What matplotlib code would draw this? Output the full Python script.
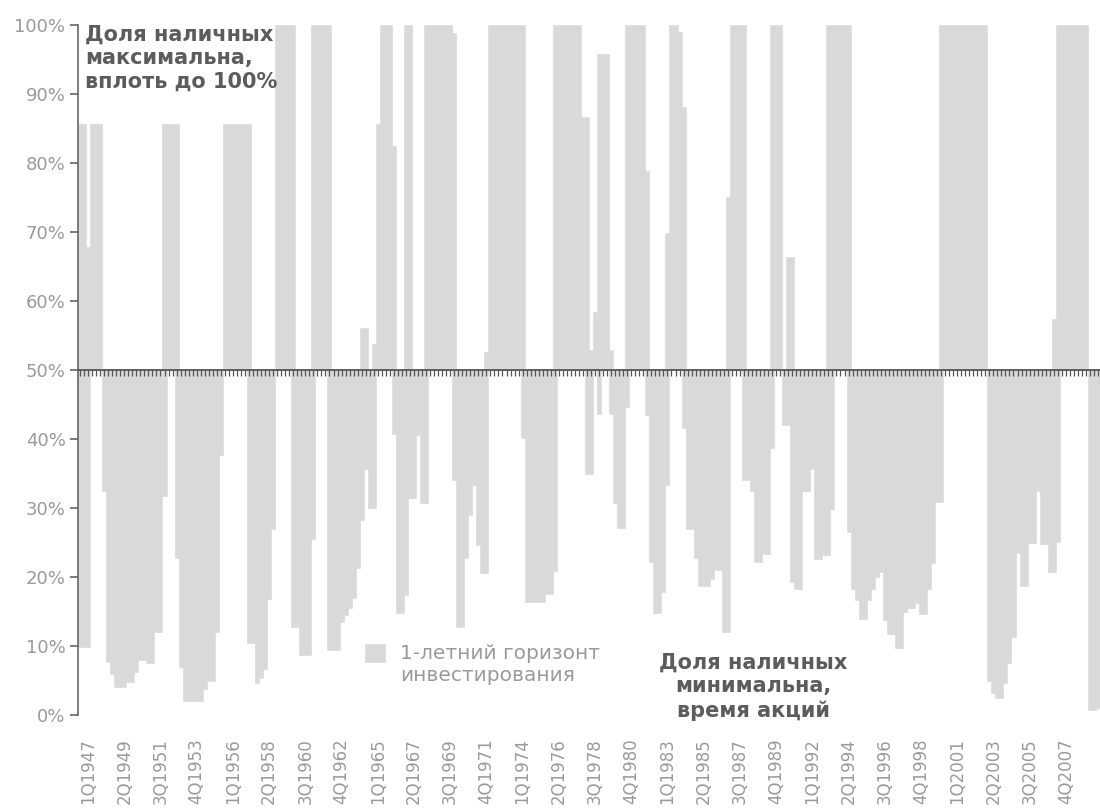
import numpy as np
import matplotlib
matplotlib.use("Agg")
import matplotlib.pyplot as plt

# Доля наличных по кварталам (1-летний горизонт): верхняя и нижняя граница столбца, 50 = нет столбца
verh = [
    85.6, 85.6, 67.8, 85.6, 85.6, 85.6, 50, 50, 50, 50,
    50, 50, 50, 50, 50, 50, 50, 50, 50, 50,
    50, 85.6, 85.6, 85.6, 85.6, 50, 50, 50, 50, 50,
    50, 50, 50, 50, 50, 50, 85.6, 85.6, 85.6, 85.6,
    85.6, 85.6, 85.6, 50, 50, 50, 50, 50, 50, 100,
    100, 100, 100, 100, 50, 50, 50, 50, 100, 100,
    100, 100, 100, 50, 50, 50, 50, 50, 50, 50,
    56.1, 56.1, 50, 53.7, 85.6, 100, 100, 100, 82.4, 50,
    50, 100, 100, 50, 50, 50, 100, 100, 100, 100,
    100, 100, 100, 98.9, 50, 50, 50, 50, 50, 50,
    50, 52.6, 100, 100, 100, 100, 100, 100, 100, 100,
    100, 50, 50, 50, 50, 50, 50, 50, 100, 100,
    100, 100, 100, 100, 100, 86.6, 86.6, 52.9, 58.4, 95.8,
    95.8, 95.8, 52.9, 50, 50, 50, 100, 100, 100, 100,
    100, 78.9, 50, 50, 50, 50, 69.8, 100, 100, 99,
    88.1, 50, 50, 50, 50, 50, 50, 50, 50, 50,
    50, 75.1, 100, 100, 100, 100, 50, 50, 50, 50,
    50, 50, 100, 100, 100, 50, 66.4, 66.4, 50, 50,
    50, 50, 50, 50, 50, 50, 100, 100, 100, 100,
    100, 100, 50, 50, 50, 50, 50, 50, 50, 50,
    50, 50, 50, 50, 50, 50, 50, 50, 50, 50,
    50, 50, 50, 50, 100, 100, 100, 100, 100, 100,
    100, 100, 100, 100, 100, 100, 50, 50, 50, 50,
    50, 50, 50, 50, 50, 50, 50, 50, 50, 50,
    50, 50, 57.4, 100, 100, 100, 100, 100, 100, 100,
    100, 50, 50, 50,
]

niz = [
    9.9, 9.9, 9.9, 50, 50, 50, 32.4, 7.7, 6.0, 4.0,
    4.0, 4.0, 4.8, 4.8, 6.3, 8.0, 8.0, 7.5, 7.5, 12.1,
    12.1, 31.7, 50, 50, 22.8, 7.0, 2.0, 2.0, 2.0, 2.0,
    2.0, 3.8, 5.0, 5.0, 12.1, 37.7, 50, 50, 50, 50,
    50, 50, 10.5, 10.5, 4.6, 5.3, 6.7, 16.8, 27.0, 50,
    50, 50, 50, 12.8, 12.8, 8.7, 8.7, 8.7, 25.5, 50,
    50, 50, 9.4, 9.4, 9.4, 13.5, 14.5, 15.5, 17.0, 21.3,
    28.3, 35.7, 30.0, 30.0, 50, 50, 50, 50, 40.7, 14.8,
    14.8, 17.4, 31.5, 31.5, 40.6, 30.7, 30.7, 50, 50, 50,
    50, 50, 50, 34.0, 12.8, 12.8, 22.7, 29.0, 33.4, 24.7,
    20.6, 20.6, 50, 50, 50, 50, 50, 50, 50, 50,
    40.2, 16.4, 16.4, 16.4, 16.4, 16.4, 17.6, 17.6, 20.9, 50,
    50, 50, 50, 50, 50, 50, 35.0, 35.0, 50, 43.6,
    50, 50, 43.6, 30.7, 27.1, 27.1, 44.7, 50, 50, 50,
    50, 43.5, 22.2, 14.8, 14.8, 17.8, 33.4, 50, 50, 50,
    41.6, 27.0, 27.0, 22.7, 18.7, 18.7, 18.7, 19.7, 21.0, 21.0,
    12.1, 12.1, 50, 50, 50, 34.0, 34.0, 32.4, 22.2, 22.2,
    23.4, 23.4, 38.7, 50, 50, 42.0, 42.0, 19.3, 18.3, 18.3,
    32.5, 32.5, 35.7, 22.6, 22.6, 23.2, 23.2, 29.8, 50, 50,
    50, 26.5, 18.2, 16.7, 13.9, 13.9, 16.7, 18.3, 20.0, 20.7,
    13.7, 11.8, 11.8, 9.7, 9.7, 15.0, 15.5, 15.5, 16.3, 14.7,
    14.7, 18.2, 22.0, 30.8, 30.8, 50, 50, 50, 50, 50,
    50, 50, 50, 50, 50, 50, 5.0, 3.2, 2.5, 2.5,
    4.7, 7.6, 11.3, 23.5, 18.7, 18.7, 25.0, 25.0, 32.5, 24.8,
    24.8, 20.7, 20.7, 25.1, 50, 50, 50, 50, 50, 50,
    50, 0.7, 0.7, 1.0,
]

podpisi_x = [
    "1Q1947", "2Q1949", "3Q1951", "4Q1953", "1Q1956", "2Q1958", "3Q1960",
    "4Q1962", "1Q1965", "2Q1967", "3Q1969", "4Q1971", "1Q1974", "2Q1976",
    "3Q1978", "4Q1980", "1Q1983", "2Q1985", "3Q1987", "4Q1989", "1Q1992",
    "2Q1994", "3Q1996", "4Q1998", "1Q2001", "2Q2003", "3Q2005", "4Q2007",
]

SERYI = "#d9d9d9"
TEKST = "#9a9a9a"
TEMNYI = "#5c5c5c"

fig = plt.figure(figsize=(11, 8.09), dpi=100)
ax = fig.add_axes([78 / 1100, 94 / 809, 1022 / 1100, 690 / 809])

x = np.arange(len(verh))
verh = np.array(verh)
niz = np.array(niz)

ax.bar(x, verh - 50, bottom=50, width=1.0, color=SERYI, edgecolor=SERYI,
       linewidth=0.4, label="1-летний горизонт\nинвестирования")
ax.bar(x, niz - 50, bottom=50, width=1.0, color=SERYI, edgecolor=SERYI, linewidth=0.4)

ax.set_xlim(-0.5, len(x) - 0.5)
ax.set_ylim(0, 100)

# ось Y
ax.set_yticks(np.arange(0, 101, 10))
ax.set_yticklabels([f"{v}%" for v in range(0, 101, 10)])
ax.tick_params(axis="y", colors="#666666", labelcolor=TEKST, labelsize=13,
               length=6, width=1.2, pad=3)

# подписи кварталов снизу
ax.set_xticks(np.arange(2, len(x), 9))
ax.set_xticklabels(podpisi_x, rotation=90, va="top", ha="center")
ax.tick_params(axis="x", length=0, labelcolor=TEKST, labelsize=12, pad=17)

for s in ["top", "right", "bottom"]:
    ax.spines[s].set_visible(False)
ax.spines["left"].set_color("#666666")
ax.spines["left"].set_linewidth(1.2)

# линия 50% с рисками по кварталам
sec = ax.secondary_xaxis(0.5)
sec.set_zorder(5)
sec.set_xticks(x)
sec.tick_params(axis="x", direction="in", length=4, width=0.9, color="#555555",
                labeltop=False, labelbottom=False)
for s in sec.spines.values():
    s.set_color("#555555")
    s.set_linewidth(1.3)

# подписи
ax.text(0.007, 1.0, "Доля наличных\nмаксимальна,\nвплоть до 100%", transform=ax.transAxes,
        ha="left", va="top", fontsize=15, fontweight="bold", color=TEMNYI, linespacing=1.2)
ax.text(0.661, 0.091, "Доля наличных\nминимальна,\nвремя акций", transform=ax.transAxes,
        ha="center", va="top", fontsize=15, fontweight="bold", color=TEMNYI, linespacing=1.25)

leg = ax.legend(loc="upper left", bbox_to_anchor=(0.281, 0.103), frameon=False,
                fontsize=14.5, handlelength=1.0, handleheight=1.0, handletextpad=0.75,
                borderpad=0, borderaxespad=0, labelcolor=TEKST)
# квадрат легенды на уровне первой строки
for stolbec in leg._legend_handle_box.get_children():
    for stroka in stolbec.get_children():
        stroka.align = "top"

fig.savefig("out.png", dpi=100)
